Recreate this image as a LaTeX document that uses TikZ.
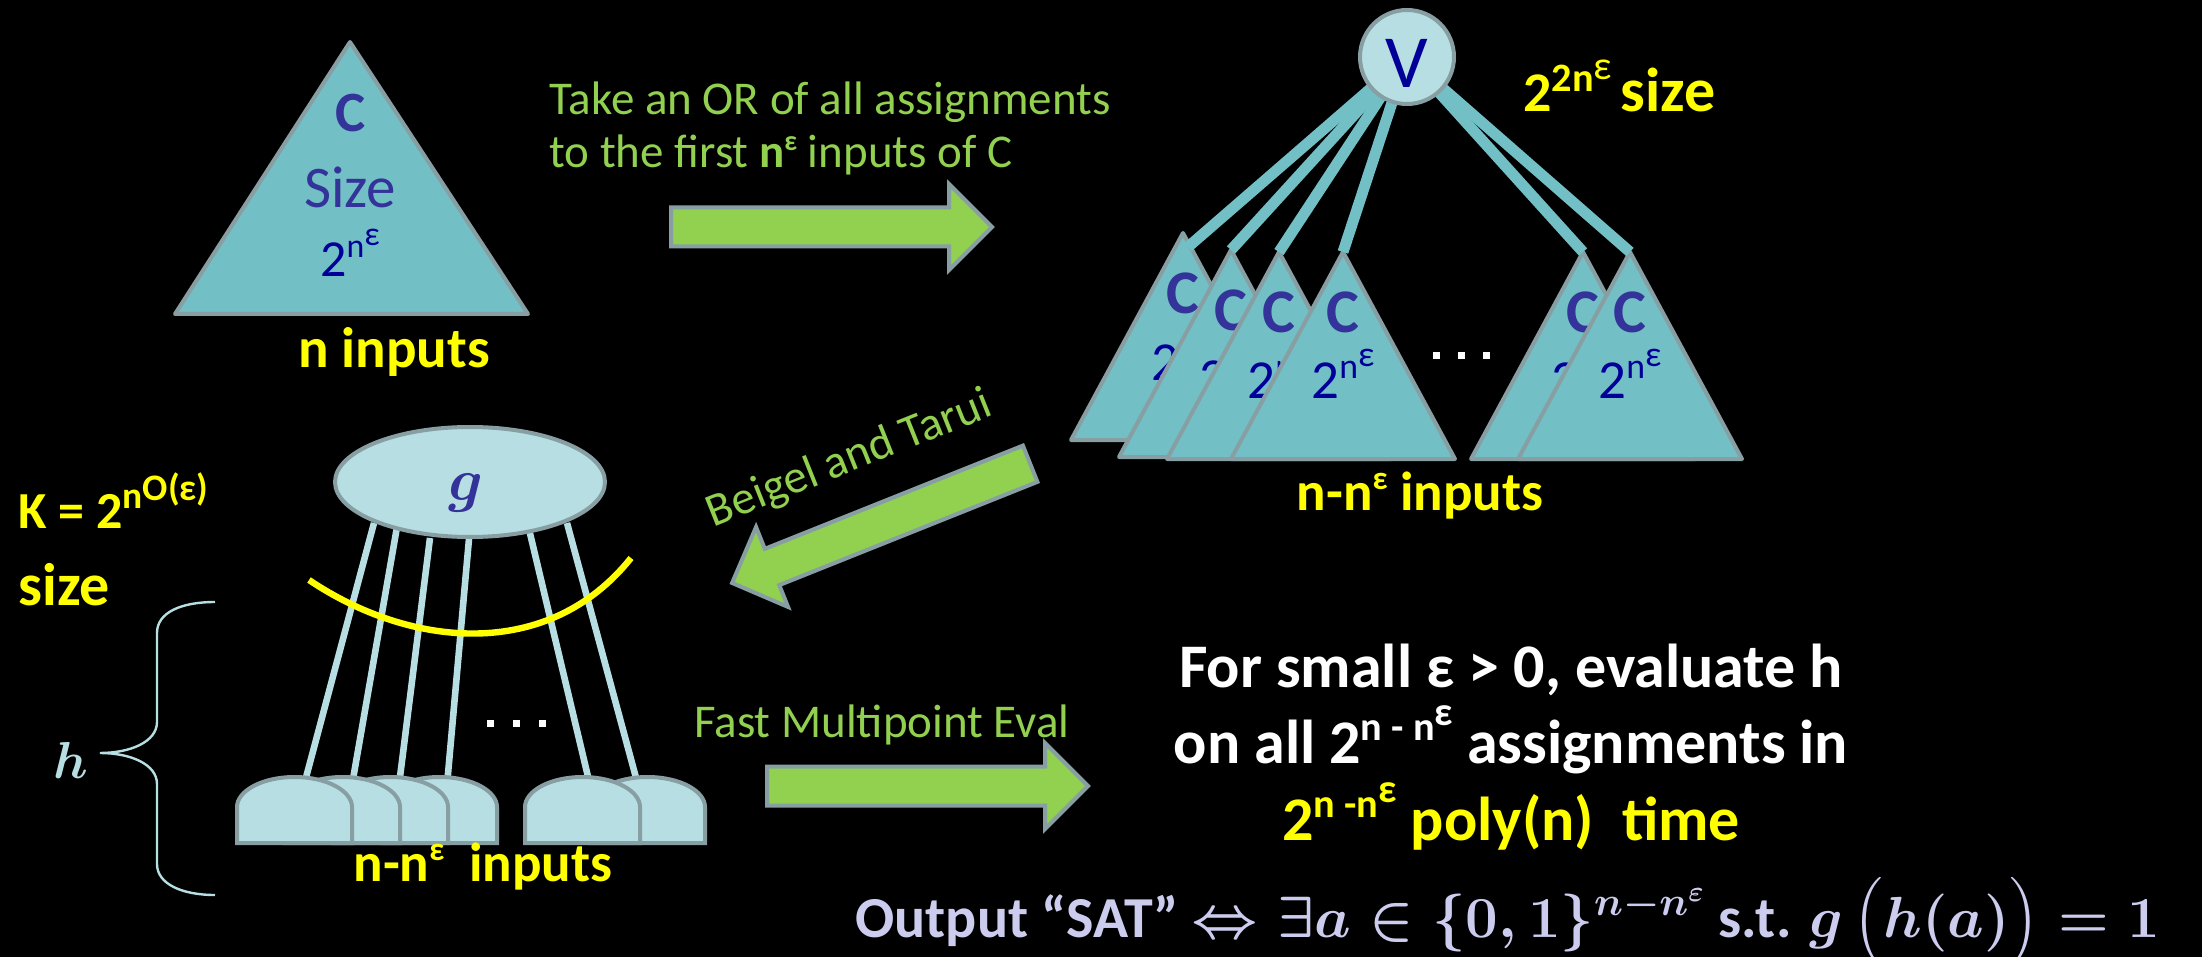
\RequirePackage{fix-cm}
\documentclass[tikz,border=0pt]{standalone}
\usepackage{amsmath}
\usepackage[no-math]{fontspec}
\setmainfont{Carlito}
\usetikzlibrary{shapes.geometric}
\definecolor{trifill}{HTML}{72BFC5}
\definecolor{trigrey}{HTML}{879FA3}
\definecolor{gatefill}{HTML}{B7DEE2}
\definecolor{cblue}{HTML}{333399}
\definecolor{sizeblue}{HTML}{000099}
\definecolor{arrgreen}{HTML}{92D050}
\definecolor{hiyellow}{HTML}{FFFF00}
\definecolor{satlav}{HTML}{CCCCEE}
\newcommand{\sz}[1]{\fontsize{#1}{#1}\selectfont}
\makeatletter
\newcommand{\upsc}[2][0.65]{\raisebox{0.37em}{\fontsize{\fpeval{#1*\f@size}}{0}\selectfont #2}}
\makeatother
\newcommand{\uprise}[2][0.35em]{\raisebox{#1}{#2}}
\newcommand{\nexp}{2\upsc{n\uprise{ε}}}
\newcommand{\satline}{Output ``SAT'' \(\boldsymbol{\Leftrightarrow\exists a\in\{0,1\}^{n-n^{\varepsilon}}}\) s.t.
  \(\boldsymbol{g\left(\rule{0pt}{0.95em}h(a)\right)=1}\)}
\tikzset{
  tri/.style     ={draw=trigrey, fill=trifill, line width=2pt, line join=round},
  gate/.style    ={draw=trigrey, fill=gatefill, line width=2pt},
  vbar/.style    ={draw=trifill, line width=5.5pt},
  wire/.style    ={draw=gatefill, line width=3.3pt},
  cutline/.style ={draw=hiyellow, line width=3.2pt},
  hbrace/.style  ={draw=gatefill, line width=1.2pt},
  dotsq/.style   ={fill=white},
  bigarrow/.style={draw=trigrey, fill=arrgreen, line width=2pt, line join=miter},
  blockarrow/.pic={\draw[bigarrow] (2,-19.5) -- (280,-19.5) -- (280,-43)
                     -- (323,0) -- (280,43) -- (280,19.5) -- (2,19.5) -- cycle;},
  txt/.style     ={inner sep=0pt, anchor=base},
  steplbl/.style ={txt, text=arrgreen, font=\sz{23.5}},
  inlbl/.style   ={txt, text=hiyellow, font=\bfseries\sz{27.5}},
  cbig/.style    ={txt, text=cblue, font=\bfseries\sz{28.5}},
  csmall/.style  ={txt, text=cblue, font=\bfseries\sz{31}},
  nsize/.style   ={txt, text=sizeblue, font=\sz{27.5}},
  evaltxt/.style ={txt, text=white, font=\bfseries\sz{31}},
}
\begin{document}
\begin{tikzpicture}[x=0.5pt, y=-0.5pt]
\path[use as bounding box, fill=black] (0,0) rectangle (2202,957);

% circuit C
\draw[tri] (350,42) -- (528,314) -- (175,314) -- cycle;
\node[cbig] (cC) at (351,132) {C};
\node[txt, text=cblue, font=\sz{29.5}] (cSize) at (350,208) {Size};
\node[nsize, font=\sz{26}] (cExp) at (350,277) {\nexp};
\node[inlbl, font=\bfseries\sz{28.5}] (cIn) at (394,367) {n inputs};

% step 1
\node[steplbl, anchor=base west] (or1) at (549,115) {Take an OR of all assignments};
\node[steplbl, anchor=base west] (or2) at (549,168) {to the first \textbf{n\upsc[0.6]{ε}} inputs of C};
\pic at (669,227) {blockarrow};

% OR of copies
\coordinate (vc) at (1407,57);
\foreach \ax/\ay [count=\i] in {1183/233,1231/250,1279/252,1343/252,1583/252,1630/252}{
  \draw[tri] (\ax,\ay) -- ++(112,207) -- ++(-224,0) -- cycle;
  \node[csmall] (sc\i) at (\ax,\ay+81) {C};
  \node[nsize] (se\i) at (\ax,\ay+147) {\nexp};
  \coordinate (top\i) at (\ax,\ay);
}
\coordinate (top1) at (1188,247);
\foreach \i in {1,...,6}
  \draw[vbar] (vc) -- (top\i);
\node[circle, gate, minimum size=47pt, inner sep=0pt] (V) at (vc) {};
\node[txt, text=sizeblue, font=\sz{37.5}] (Vlbl) at (1407,88) {V};
\foreach \dx in {0,25,50}
  \fill[dotsq] (1433+\dx,352) rectangle ++(7,7);
\node[txt, anchor=base west, text=hiyellow, font=\bfseries\sz{28}] (vsize) at (1523,112)
  {2\upsc[0.72]{2n\uprise[0.3em]{\mdseries ε}}\hspace{0.15em}{\sz{31}size}};
\node[inlbl] (rIn) at (1420,510) {n-n\upsc[0.6]{ε} inputs};

% step 2
\pic[rotate=201.8] at (1032,463) {blockarrow};
\node[steplbl, rotate=21.8] (bt) at (854,471) {Beigel and Tarui};

% g of h
\foreach \tx/\ty/\bx [count=\i] in {374/523/304,397/527/352,430/538/399,469/539/447,528/525/590,567/523/638}{
  \coordinate (wt\i) at (\tx,\ty);
  \coordinate (wb\i) at (\bx,785);
  \draw[wire] (wt\i) -- (wb\i);
}
\foreach \l in {590,525,382,333,285,237}
  \draw[gate] (\l,843) -- (\l,807) .. controls (\l,791) and (\l+25,777) .. (\l+57.5,777)
    .. controls (\l+90,777) and (\l+115,791) .. (\l+115,807) -- (\l+115,843) -- cycle;
\node[ellipse, gate, minimum width=135pt, minimum height=55pt, inner sep=0pt] (g) at (470,482) {};
\node[txt, text=cblue, font=\sz{30}] (gLbl) at (466,500) {$\boldsymbol{g}$};
\coordinate (cut1) at (309,580);
\coordinate (cut2) at (631,558);
\draw[cutline] (cut1) .. controls (410,648) and (548,662) .. (cut2);
\foreach \dx in {0,26,52}
  \fill[dotsq] (487+\dx,720) rectangle ++(7,7);
\node[inlbl] (gIn) at (483,881) {n-n\upsc[0.6]{ε}~ inputs};

\node[txt, anchor=base west, text=hiyellow, font=\bfseries\sz{26}] (kSize) at (18,528)
  {K = 2\upsc[0.72]{n\uprise[0.22em]{O(ε)}}};
\node[txt, anchor=base west, text=hiyellow, font=\bfseries\sz{30}] (kWord) at (18,605) {size};
\draw[hbrace] (215,602) .. controls (182,602) and (157,612) .. (157,633) -- (157,722)
  .. controls (157,742) and (130,753) .. (100,753) .. controls (130,753) and (157,764) .. (157,784)
  -- (157,864) .. controls (157,884) and (182,895) .. (215,895);
\node[txt, text=gatefill, font=\sz{26}] (hLbl) at (71,778) {$\boldsymbol{h}$};

% step 3
\node[steplbl] (fme) at (882,737) {Fast Multipoint Eval};
\pic at (765,786) {blockarrow};
\node[evaltxt] (ev1) at (1511,687) {For small ε > 0, evaluate h};
\node[evaltxt] (ev2) at (1511,763) {on all 2\upsc{n - n\uprise{ε}} assignments in};
\node[evaltxt, text=hiyellow] (ev3) at (1511,840) {2\upsc{n -n\uprise{ε}} poly(n)~ time};
\node[txt, anchor=base west, text=satlav, font=\bfseries\sz{29}] (sat) at (855,937) {\satline};
\end{tikzpicture}
\end{document}
